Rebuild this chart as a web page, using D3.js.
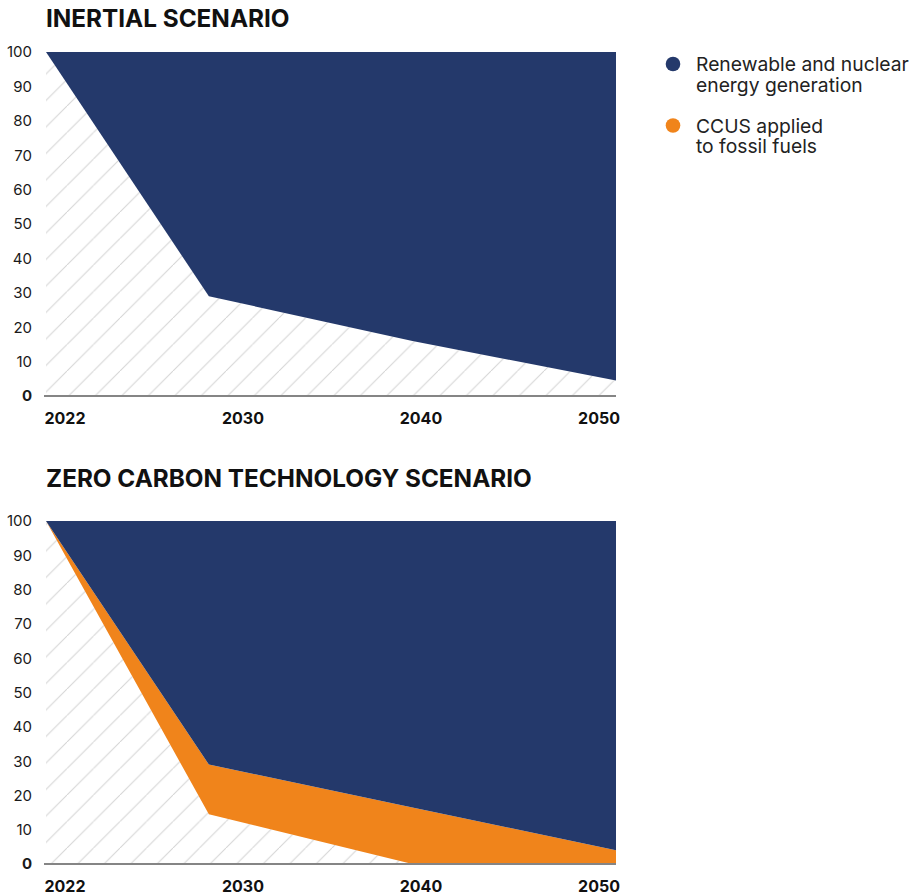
<!DOCTYPE html>
<html><head><meta charset="utf-8">
<script src="https://cdn.jsdelivr.net/npm/d3@7"></script>
<style>
body{margin:0;background:#fff;}
svg{display:block;font-family:Inter,"Noto Sans",sans-serif;}
</style></head>
<body>
<svg id="chart" width="916" height="896"></svg>
<script>
const years = [2022, 2030, 2040, 2050];
const xLabels = ["2022", "2030", "2040", "2050"];
const yTicks = [0, 10, 20, 30, 40, 50, 60, 70, 80, 90, 100];
const seriesKeys = ["fossil", "ccus", "renew"];
// Inertial scenario (% of generation)
const inertialFossil = [100, 29, 16, 4.5];
const inertialCcus = [0, 0, 0, 0];
const inertialRenew = [0, 71, 84, 95.5];
// Zero carbon technology scenario
const zeroFossil = [100, 14.5, 0, 0];
const zeroCcus = [0, 14.5, 16.5, 4];
const zeroRenew = [0, 71, 83.5, 96];
const titles = ["INERTIAL SCENARIO", "ZERO CARBON TECHNOLOGY SCENARIO"];
const legendLines = [["Renewable and nuclear", "energy generation"], ["CCUS applied", "to fossil fuels"]];

const NAVY = "#24396b", ORANGE = "#f0841b";
const svg = d3.select("#chart");

const defs = svg.append("defs");
const pat = defs.append("pattern").attr("id", "hatch")
  .attr("patternUnits", "userSpaceOnUse").attr("width", 26.5).attr("height", 26.5)
  .attr("patternTransform", "translate(14,0)");
pat.append("path").attr("d", "M-1,27.5 L27.5,-1 M-14,13.25 L13.25,-14 M13.25,40 L40,13.25")
  .attr("stroke", "#d4d4d4").attr("stroke-width", 1).attr("fill", "none");

function drawChart(cfg) {
  const g = svg.append("g");
  const x = d3.scaleLinear().domain([2022, 2050]).range([46, 616]);
  const y = d3.scaleLinear().domain([0, 100]).range([cfg.y0, cfg.y100]);
  const xl = d3.scalePoint().domain(xLabels).range([65, 599]);

  g.append("text").attr("x", 46).attr("y", cfg.titleY).text(cfg.title)
    .attr("font-size", 24.3).attr("font-weight", 700).attr("fill", "#111");

  const table = years.map((yr, i) => ({year: yr, fossil: cfg.fossil[i], ccus: cfg.ccus[i], renew: cfg.renew[i]}));
  const stacked = d3.stack().keys(seriesKeys)(table);
  const area = d3.area().x(d => x(d.data.year)).y0(d => y(d[0])).y1(d => y(d[1]));
  const fills = {fossil: "url(#hatch)", ccus: ORANGE, renew: NAVY};
  stacked.forEach(s => {
    g.append("path").datum(s).attr("d", area).attr("fill", fills[s.key]);
  });

  // y tick labels
  g.selectAll(".yt").data(yTicks).join("text")
    .attr("x", 32).attr("y", d => y(d)).attr("dy", "0.36em")
    .attr("text-anchor", "end").attr("font-size", 15)
    .attr("font-weight", d => d === 0 ? 700 : 400)
    .attr("fill", "#1a1a1a").text(d => d);

  // baseline
  g.append("line").attr("x1", 44).attr("x2", 616).attr("y1", y(0)).attr("y2", y(0))
    .attr("stroke", "#858585").attr("stroke-width", 2.2);

  // x labels
  g.selectAll(".xt").data(xLabels).join("text")
    .attr("x", d => xl(d)).attr("y", y(0) + 28).attr("text-anchor", "middle")
    .attr("font-size", 16).attr("font-weight", 700).attr("fill", "#111").text(d => d);
}

drawChart({title: titles[0], titleY: 27, y0: 396, y100: 52, fossil: inertialFossil, ccus: inertialCcus, renew: inertialRenew});
drawChart({title: titles[1], titleY: 487, y0: 864, y100: 521, fossil: zeroFossil, ccus: zeroCcus, renew: zeroRenew});

// legend
const legendColors = [NAVY, ORANGE];
const lg = svg.append("g");
legendLines.forEach((lines, i) => {
  const cy = 64 + i * 61.5;
  lg.append("circle").attr("cx", 673).attr("cy", cy).attr("r", 7.3).attr("fill", legendColors[i]);
  const t = lg.append("text").attr("x", 696).attr("y", cy + 7)
    .attr("font-size", 19.3).attr("fill", "#222");
  lines.forEach((ln, j) => t.append("tspan").attr("x", 696).attr("dy", j === 0 ? 0 : 20.5).text(ln));
});
</script>
</body></html>
